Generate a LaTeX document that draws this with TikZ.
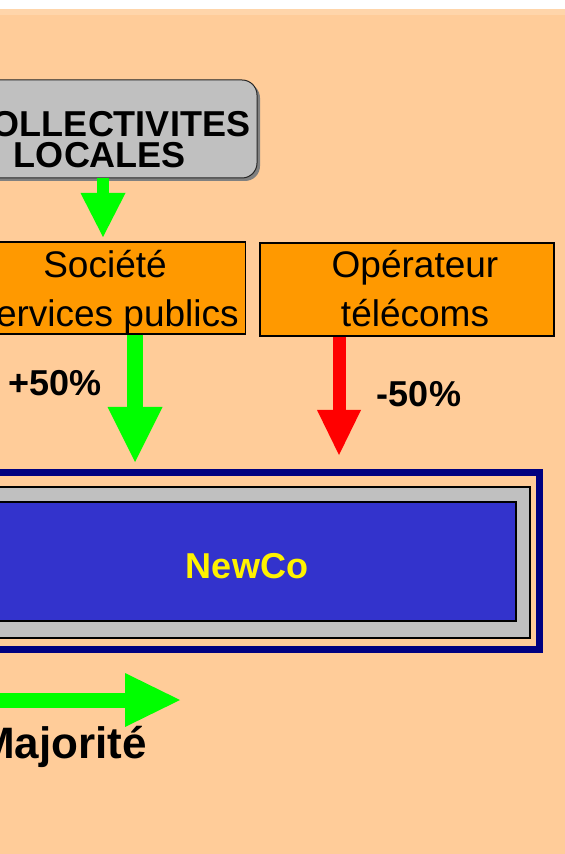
\documentclass[tikz,border=0pt]{standalone}
\usepackage{fontspec}
\setmainfont{Liberation Sans}
\usetikzlibrary{arrows.meta,shadows}

\definecolor{peach}{HTML}{FFCC99}
\definecolor{peachlight}{HTML}{FFD5AA}
\definecolor{boxorange}{HTML}{FF9900}
\definecolor{boxgray}{HTML}{C0C0C0}
\definecolor{shadowgray}{HTML}{808080}
\definecolor{framenavy}{HTML}{000080}
\definecolor{newcoblue}{HTML}{3333CC}
\definecolor{arrowgreen}{HTML}{00FF00}
\definecolor{arrowred}{HTML}{FF0000}

\begin{document}
\begin{tikzpicture}[x=0.5pt,y=-0.5pt,
	collbox/.style={draw=black!85,line width=0.5pt,fill=boxgray,rounded corners=7.5pt,
		minimum width=159pt,minimum height=49pt,
		drop shadow={shadow xshift=1.5pt,shadow yshift=-1.5pt,fill=shadowgray,opacity=1}},
	orgbox/.style={draw,line width=0.6pt,fill=boxorange,align=center,text depth=0pt,
		font=\fontsize{18.5pt}{24.5pt}\selectfont},
	orgtxt/.style={align=center,text depth=0pt,font=\fontsize{18.5pt}{24.5pt}\selectfont},
	pct/.style={anchor=base,font=\bfseries\fontsize{18pt}{21.6pt}\selectfont},
	bigarrow/.style n args={4}{draw=#1,line width=#2,
		-{Triangle[width=#3,length=#4,line width=0pt]}},
	]
	\useasboundingbox (0,0) rectangle (565,854);
	\fill[white] (-10,-10) rectangle (580,10);
	\fill[peach] (-10,9) rectangle (580,870);
	\fill[peachlight] (-10,9) rectangle (580,15);

	\node[collbox] (coll) at (98,129) {};
	\node[align=center,font=\bfseries\fontsize{18pt}{15.5pt}\selectfont] (colltxt) at (100,139.5)
		{\hspace*{8pt}COLLECTIVITES\\LOCALES};

	\node[orgbox,minimum width=139pt,minimum height=46pt] (soc) at (105,288)
		{Société\\Services publics};
	\node[orgbox,minimum width=147pt,minimum height=46.5pt] (op) at (407,289.5) {};
	\node[orgtxt] (optxt) at (415,288.5) {Opérateur\\télécoms};

	\node[draw=framenavy,line width=3.5pt,minimum width=292.5pt,minimum height=88.5pt] (frame) at (247,561) {};
	\node[draw,line width=0.8pt,fill=boxgray,minimum width=283pt,minimum height=75.5pt] (graybox) at (247,562.5) {};
	\node[draw,line width=1pt,fill=newcoblue,text=yellow,text height=17.4pt,
		font=\bfseries\fontsize{18pt}{21.6pt}\selectfont,
		minimum width=269pt,minimum height=59.5pt] (newco) at (247,561.5) {NewCo};

	\coordinate (majstart) at (-60,700);
	\coordinate (majend) at (180,700);

	\draw[bigarrow={arrowgreen}{6pt}{22.5pt}{22pt},shorten >=2.2pt]
		([xshift=2.5pt]coll.south) -- ([xshift=-1pt]soc.north);
	\draw[bigarrow={arrowgreen}{8pt}{27.5pt}{27.5pt},shorten >=3.5pt]
		([xshift=15pt]soc.south) -- ([xshift=15pt]soc.south |- frame.north);
	\draw[bigarrow={arrowred}{6.5pt}{22pt}{22.5pt},shorten >=7pt]
		([xshift=-34pt]op.south) -- ([xshift=-34pt]op.south |- frame.north);
	\draw[bigarrow={arrowgreen}{7.5pt}{27pt}{27.5pt}] (majstart) -- (majend);

	\node[pct] (plus) at (55,396) {+50\%};
	\node[pct] (minus) at (419,407) {-50\%};
	\node[pct,font=\bfseries\fontsize{22pt}{26pt}\selectfont] (maj) at (62.5,758) {Majorité};
\end{tikzpicture}
\end{document}
